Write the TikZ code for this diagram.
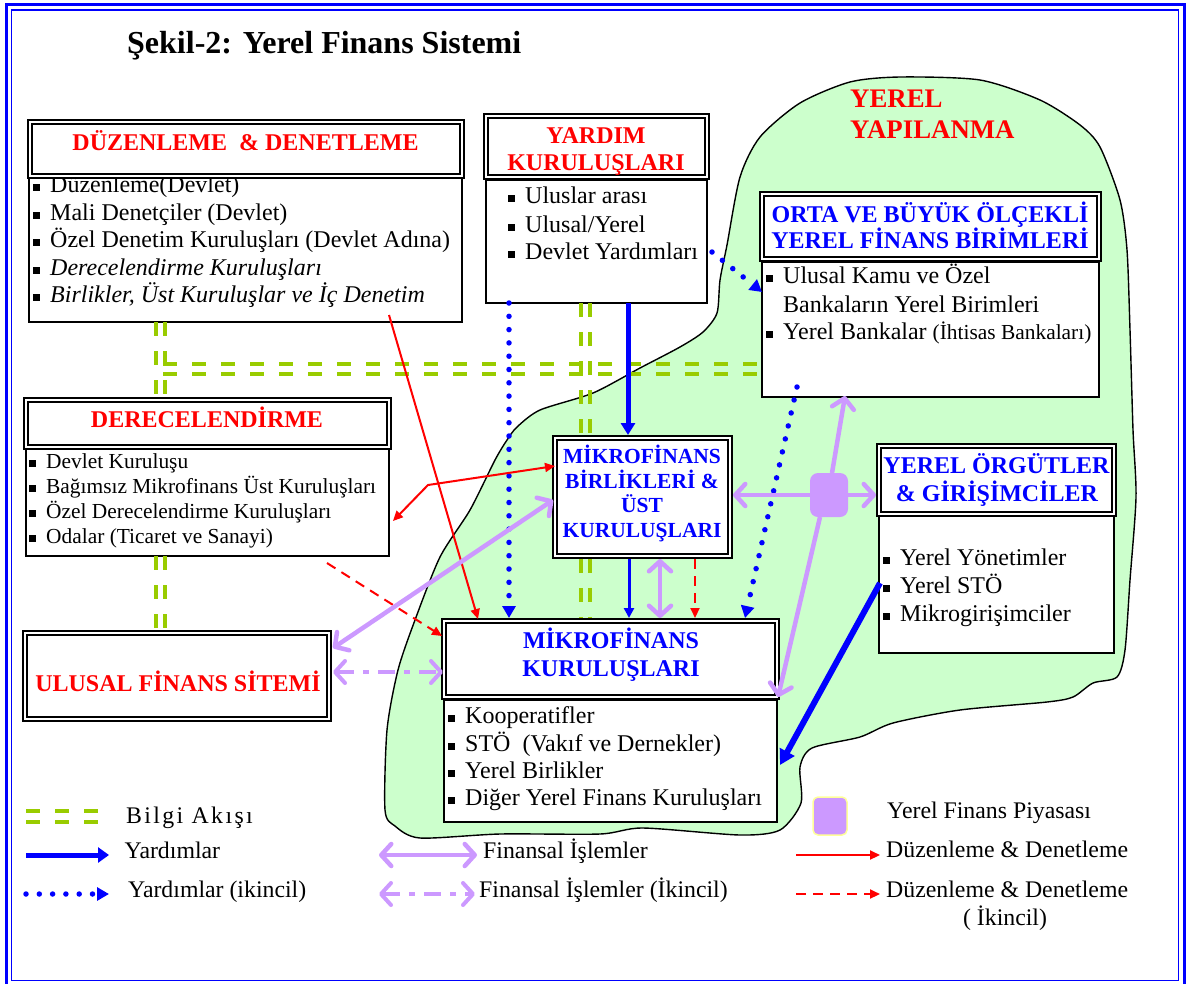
\documentclass[tikz,border=0pt]{standalone}
\usepackage{fontspec}
\setmainfont{Liberation Serif}
\usetikzlibrary{arrows.meta}
\definecolor{vred}{HTML}{FF0000}
\definecolor{vblue}{HTML}{0000FF}
\definecolor{vgreen}{HTML}{99CC00}
\definecolor{vpurp}{HTML}{CC99FF}
\definecolor{vblob}{HTML}{CCFFCC}
\definecolor{vyell}{HTML}{FFFF99}
\newcommand{\itm}{\makebox[17pt][l]{\rule[1.5pt]{7pt}{7pt}}}
\newcommand{\noitm}{\hspace*{17pt}}
\begin{document}
\begin{tikzpicture}[x=1pt,y=-1pt,
  hdr/.style={draw=black, line width=1.9pt, double=white, double distance=2pt, fill=white, inner sep=0pt, outer sep=0pt},
  bodybox/.style={draw=black, line width=1.5pt, fill=white, inner sep=0pt, outer sep=0pt},
  bt/.style={anchor=base west, inner sep=0pt, font=\fontsize{24}{28}\selectfont},
  bts/.style={anchor=base west, inner sep=0pt, font=\fontsize{21.4}{25}\selectfont},
  tt/.style={anchor=base, inner sep=0pt, font=\bfseries\fontsize{24}{28}\selectfont},
  tts/.style={anchor=base, inner sep=0pt, font=\bfseries\fontsize{21.5}{25}\selectfont},
  bilgi/.style={vgreen, line width=4pt, dash pattern=on 14pt off 15pt},
  yard/.style={vblue, line width=5pt, -{Triangle[length=12pt,width=14pt]}},
  yardsm/.style={vblue, line width=3pt, -{Triangle[length=10pt,width=10pt]}},
  yardsec/.style={vblue, line width=5.5pt, line cap=round, dash pattern=on 0pt off 13.3pt, -{Triangle[length=12pt,width=13pt]}},
  fin/.style={vpurp, line width=4.5pt, {Straight Barb[length=10pt,width=22pt,round]}-{Straight Barb[length=10pt,width=22pt,round]}},
  finone/.style={vpurp, line width=4.5pt, -{Straight Barb[length=10pt,width=22pt,round]}},
  finsec/.style={fin, line width=4pt, dash pattern=on 17pt off 9pt on 6pt off 9pt},
  duz/.style={vred, line width=2pt, -{Triangle[length=10pt,width=9pt]}},
  duzsec/.style={duz, dash pattern=on 10pt off 7pt},
  lgd/.style={anchor=base west, inner sep=0pt, font=\fontsize{23.8}{28}\selectfont}
]
\useasboundingbox (0,0) rectangle (1190,983);
\clip (0,0) rectangle (1190,983);
% frame
\draw[vblue,line width=3pt] (6,4.5) rectangle (1184,995);
\draw[vblue,line width=1.5pt] (11.5,10) rectangle (1178.5,980.5);
% title
\node[anchor=base west, inner sep=0pt, font=\bfseries\fontsize{32}{36}\selectfont] (title) at (127,53) {Şekil-2: Yerel Finans Sistemi};
% local structure blob
\draw[line width=1.4pt, fill=vblob] plot[smooth cycle, tension=0.45] coordinates {
 (740,177) (760,137) (800,103) (850,82) (900,77) (980,80) (1040,100) (1080,125) (1100,147)
 (1120,200) (1127,250) (1130,330) (1133,430) (1136,497) (1130,580) (1125,650) (1117,677)
 (1093,683) (1073,697) (1047,702) (960,710) (893,723) (860,737) (812,748) (800,767) (801,803)
 (780,830) (740,835) (643,828) (600,834) (500,834) (420,838) (395,826) (385,810) (387,730)
 (398,670) (415,620) (440,557) (470,510) (495,460) (507,440) (517,427) (540,410) (593,393)
 (640,368) (680,347) (703,332) (717,313) (720,280) (727,245)};
\node[anchor=base west, inner sep=0pt, vred, font=\bfseries\fontsize{26.8}{30}\selectfont] (yy1) at (850,107) {YEREL};
\node[anchor=base west, inner sep=0pt, vred, font=\bfseries\fontsize{26.8}{30}\selectfont] (yy2) at (850,138) {YAPILANMA};

% body boxes
\node[bodybox, minimum width=433pt, minimum height=152pt] (b1) at (245.5,246) {};
\node[bodybox, minimum width=221pt, minimum height=123pt] (b2) at (596.5,241.5) {};
\node[bodybox, minimum width=337pt, minimum height=135pt] (b3) at (930.5,329.5) {};
\node[bodybox, minimum width=363pt, minimum height=108pt] (b4) at (207.5,502) {};
\node[bodybox, minimum width=235pt, minimum height=138pt] (b6) at (996.5,584) {};
\node[bodybox, minimum width=333pt, minimum height=122pt] (b7) at (610.5,761) {};

% body texts
\node[bt] (t11) at (33,192.5) {\itm Düzenleme(Devlet)};
\node[bt] (t12) at (33,220) {\itm Mali Denetçiler (Devlet)};
\node[bt] (t13) at (33,247.5) {\itm Özel Denetim Kuruluşları (Devlet Adına)};
\node[bt] (t14) at (33,275) {\itm\textit{Derecelendirme Kuruluşları}};
\node[bt] (t15) at (33,302.5) {\itm\textit{Birlikler, Üst Kuruluşlar ve İç Denetim}};

\node[bt] (t21) at (508,203) {\itm Uluslar arası};
\node[bt] (t22) at (508,232) {\itm Ulusal/Yerel};
\node[bt] (t23) at (508,259) {\itm Devlet Yardımları};

\node[bt] (t31) at (766,283) {\itm Ulusal Kamu ve Özel};
\node[bt] (t32) at (766,312) {\noitm Bankaların Yerel Birimleri};
\node[bt] (t33) at (766,339) {\itm Yerel Bankalar {\fontsize{21.4}{25}\selectfont (İhtisas Bankaları)}};

\node[bts] (t41) at (29,468) {\itm Devlet Kuruluşu};
\node[bts] (t42) at (29,493) {\itm Bağımsız Mikrofinans Üst Kuruluşları};
\node[bts] (t43) at (29,518) {\itm Özel Derecelendirme Kuruluşları};
\node[bts] (t44) at (29,543) {\itm Odalar (Ticaret ve Sanayi)};

\node[bt] (t61) at (883,565) {\itm Yerel Yönetimler};
\node[bt] (t62) at (883,593) {\itm Yerel STÖ};
\node[bt] (t63) at (883,621) {\itm Mikrogirişimciler};

\node[bt] (t71) at (448,723) {\itm Kooperatifler};
\node[bt] (t72) at (448,751) {\itm STÖ\ \ (Vakıf ve Dernekler)};
\node[bt] (t73) at (448,778) {\itm Yerel Birlikler};
\node[bt] (t74) at (448,805) {\itm Diğer Yerel Finans Kuruluşları};

% header boxes
\node[hdr, minimum width=432pt, minimum height=54pt] (h1) at (246,149) {};
\node[hdr, minimum width=221pt, minimum height=61pt] (h2) at (596.5,146.5) {};
\node[hdr, minimum width=337pt, minimum height=65pt] (h3) at (930.5,226.5) {};
\node[hdr, minimum width=363pt, minimum height=47pt] (h4) at (207.5,423.5) {};
\node[hdr, minimum width=175pt, minimum height=118pt] (h5) at (642.5,497) {};
\node[hdr, minimum width=235pt, minimum height=68pt] (h6) at (996.5,480) {};
\node[hdr, minimum width=333pt, minimum height=76pt] (h7) at (610.5,659) {};
\node[hdr, minimum width=304pt, minimum height=86pt] (h8) at (177,676) {};

% header titles
\node[tt, vred] (ht1) at (245.5,150) {DÜZENLEME\ \ \& DENETLEME};
\node[tt, vred] (ht2a) at (596,143) {YARDIM};
\node[tt, vred] (ht2b) at (596,170) {KURULUŞLARI};
\node[tt, vblue] (ht3a) at (930,222) {ORTA VE BÜYÜK ÖLÇEKLİ};
\node[tt, vblue] (ht3b) at (930,248) {YEREL FİNANS BİRİMLERİ};
\node[tt, vred] (ht4) at (207,427) {DERECELENDİRME};
\node[tts, vblue] (ht5a) at (642,463) {MİKROFİNANS};
\node[tts, vblue] (ht5b) at (642,488) {BİRLİKLERİ \&};
\node[tts, vblue] (ht5c) at (642,512) {ÜST};
\node[tts, vblue] (ht5d) at (642,537) {KURULUŞLARI};
\node[tt, vblue] (ht6a) at (996.5,473) {YEREL ÖRGÜTLER};
\node[tt, vblue] (ht6b) at (997,501) {\& GİRİŞİMCİLER};
\node[tt, vblue] (ht7a) at (611,648) {MİKROFİNANS};
\node[tt, vblue] (ht7b) at (611,676) {KURULUŞLARI};
\node[tt, vred] (ht8) at (178,691) {ULUSAL FİNANS SİTEMİ};

% information flow (green double dashed)
\draw[bilgi] ([shift={(127,0)}]b1.south west) -- ([shift={(130,-3)}]h4.north west);
\draw[bilgi] ([shift={(136,0)}]b1.south west) -- ([shift={(139,-3)}]h4.north west);
\draw[bilgi] ([shift={(130,0)}]b4.south west) -- ([shift={(131,-3)}]h8.north west);
\draw[bilgi] ([shift={(139,0)}]b4.south west) -- ([shift={(140,-3)}]h8.north west);
\coordinate (gl1) at (163,364);
\coordinate (gl2) at (163,373.5);
\draw[bilgi] (gl1) -- ([shift={(0,102)}]b3.north west);
\draw[bilgi] (gl2) -- ([shift={(0,111.5)}]b3.north west);
\draw[bilgi] ([shift={(95,0)}]b2.south west) -- ([shift={(26,-3)}]h5.north west);
\draw[bilgi] ([shift={(104,0)}]b2.south west) -- ([shift={(35,-3)}]h5.north west);
\draw[bilgi] ([shift={(26,3)}]h5.south west) -- ([shift={(137,-3)}]h7.north west);
\draw[bilgi] ([shift={(35,3)}]h5.south west) -- ([shift={(146,-3)}]h7.north west);

% aid (blue)
\draw[yardsec] ([shift={(23,0)}]b2.south west) -- ([shift={(65,-3)}]h7.north west);
\draw[yard] ([shift={(142,0)}]b2.south west) -- ([shift={(73,-3)}]h5.north west);
\draw[yardsm] ([shift={(74,3)}]h5.south west) -- ([shift={(185,-3)}]h7.north west);
\draw[yardsec] ([shift={(5,72)}]b2.north east) -- ([shift={(0,30)}]b3.north west);
\draw[yardsec] ([shift={(35,-10)}]b3.south west) -- ([shift={(-32,-3)}]h7.north east);
\draw[yard, line width=6pt, -{Triangle[length=15pt,width=16pt]}] ([shift={(1,68)}]b6.north west) -- ([shift={(3,65)}]b7.north east);

% regulation (red)
\draw[duz] ([shift={(360,-7)}]b1.south west) -- ([shift={(34,-2)}]h7.north west);
\coordinate (rb) at (428,485);
\draw[duz, {Triangle[length=10pt,width=9pt]}-{Triangle[length=10pt,width=9pt]}] ([shift={(4,73)}]b4.north east) -- (rb) -- ([shift={(0,28)}]h5.north west);
\draw[duzsec] ([shift={(301,7)}]b4.south west) -- ([shift={(-2,15)}]h7.north west);
\draw[duzsec] ([shift={(140,3)}]h5.south west) -- ([shift={(251,-3)}]h7.north west);

% financial transactions (purple)
\node[fill=vpurp, rounded corners=8pt, minimum width=38pt, minimum height=44pt, inner sep=0pt, outer sep=0pt] (sq) at (829,495) {};
\draw[finone] (sq.west) -- ([shift={(3,57)}]h5.north east);
\draw[finone] (sq.east) -- ([shift={(-3,49)}]h6.north west);
\draw[finone] ([shift={(3,0)}]sq.north) -- ([shift={(83,-1)}]b3.south west);
\draw[finone] ([shift={(-9,0)}]sq.south) -- ([shift={(1,0)}]h7.south east);
\draw[fin] ([shift={(105,3)}]h5.south west) -- ([shift={(216,-3)}]h7.north west);
\draw[fin] ([shift={(-2,62)}]h5.north west) -- ([shift={(4,15)}]h8.north east);
\draw[finsec] ([shift={(4,39)}]h8.north east) -- ([shift={(-1,51)}]h7.north west);

% legend
\coordinate (lg1a) at (26,811); \coordinate (lg1b) at (101,811);
\coordinate (lg2a) at (26,822); \coordinate (lg2b) at (101,822);
\draw[bilgi] (lg1a) -- (lg1b);
\draw[bilgi] (lg2a) -- (lg2b);
\node[lgd] (lt1) at (126,823) {\addfontfeature{LetterSpace=10}Bilgi Akışı};
\coordinate (lb1a) at (26,855); \coordinate (lb1b) at (109,855);
\draw[yard, -{Triangle[length=11pt,width=15pt]}] (lb1a) -- (lb1b);
\node[lgd] (lt2) at (124.5,858) {Yardımlar};
\coordinate (lb2a) at (26,894); \coordinate (lb2b) at (109,894);
\draw[yardsec] (lb2a) -- (lb2b);
\node[lgd] (lt3) at (128,897) {Yardımlar (ikincil)};
\coordinate (lp1a) at (379,855); \coordinate (lp1b) at (477,855);
\draw[fin] (lp1a) -- (lp1b);
\node[lgd] (lt4) at (483,858) {Finansal İşlemler};
\coordinate (lp2a) at (379,894); \coordinate (lp2b) at (475,894);
\draw[finsec] (lp2a) -- (lp2b);
\node[lgd] (lt5) at (479,897) {Finansal İşlemler (İkincil)};
\node[fill=vpurp, draw=vyell, line width=1.5pt, rounded corners=5pt, minimum width=34pt, minimum height=38pt, inner sep=0pt] (lsq) at (830,816) {};
\node[lgd] (lt6) at (887,818) {Yerel Finans Piyasası};
\coordinate (lr1a) at (796,855); \coordinate (lr1b) at (880,855);
\draw[duz] (lr1a) -- (lr1b);
\node[lgd] (lt7) at (886,857) {Düzenleme \& Denetleme};
\coordinate (lr2a) at (796,894); \coordinate (lr2b) at (880,894);
\draw[duzsec] (lr2a) -- (lr2b);
\node[lgd] (lt8) at (886,897) {Düzenleme \& Denetleme};
\node[anchor=base, inner sep=0pt, font=\fontsize{23.8}{28}\selectfont] (lt9) at (1005,925) {( İkincil)};
\end{tikzpicture}
\end{document}
